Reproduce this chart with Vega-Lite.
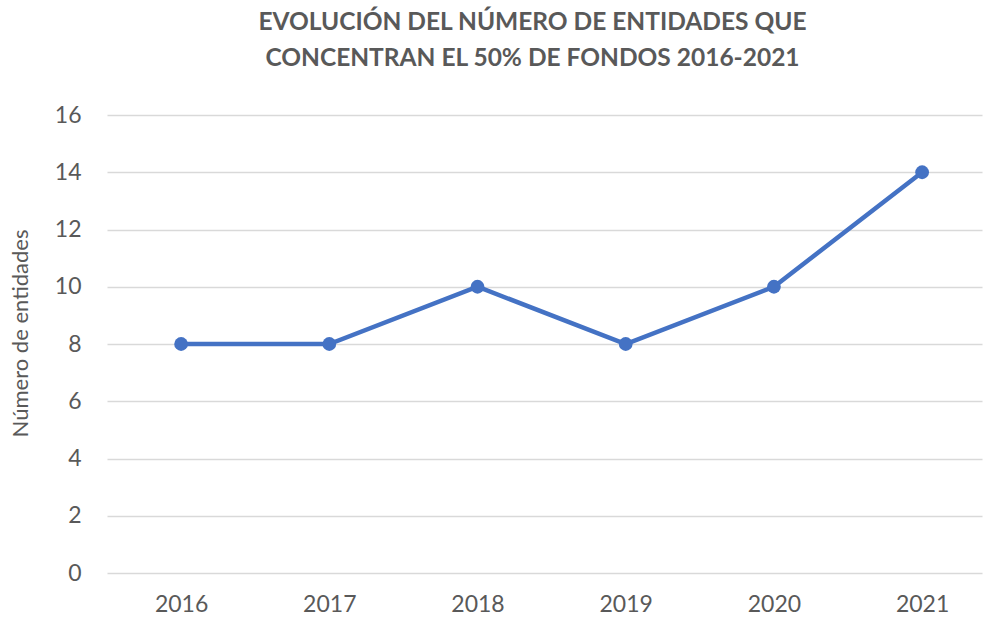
{
  "$schema": "https://vega.github.io/schema/vega-lite/v6.json",
  "autosize": "none",
  "width": 875,
  "height": 458,
  "padding": {"left": 107, "top": 115, "right": 3, "bottom": 47},
  "background": "white",
  "title": {
    "text": ["EVOLUCIÓN DEL NÚMERO DE ENTIDADES QUE", "CONCENTRAN EL 50% DE FONDOS 2016-2021"],
    "font": "Lato",
    "fontSize": 24.5,
    "fontWeight": "bold",
    "color": "#595959",
    "anchor": "middle",
    "dx": -12,
    "offset": 33,
    "lineHeight": 36
  },
  "data": {
    "values": [
      {"year": 2016, "n": 8},
      {"year": 2017, "n": 8},
      {"year": 2018, "n": 10},
      {"year": 2019, "n": 8},
      {"year": 2020, "n": 10},
      {"year": 2021, "n": 14}
    ]
  },
  "config": {
    "view": {"stroke": null},
    "axis": {"labelFont": "Lato", "titleFont": "Lato", "labelColor": "#595959", "titleColor": "#595959"}
  },
  "encoding": {
    "x": {
      "field": "year", "type": "quantitative",
      "scale": {"domain": [2015.5, 2021.404], "nice": false, "zero": false},
      "axis": {"title": null, "values": [2016, 2017, 2018, 2019, 2020, 2021], "format": "d", "labelAngle": 0, "labelFontSize": 23, "ticks": false, "domain": false, "labelPadding": 20, "grid": false}
    },
    "y": {
      "field": "n", "type": "quantitative",
      "scale": {"domain": [0, 16]},
      "axis": {
        "values": [0, 2, 4, 6, 8, 10, 12, 14, 16],
        "title": "Número de entidades",
        "titleFontSize": 22, "titleFontWeight": "normal",
        "titleX": -87, "titleY": 218, "titleAngle": -90,
        "titleAlign": "center", "titleBaseline": "middle",
        "labelFontSize": 23, "labelPadding": 26,
        "ticks": false, "domain": false,
        "gridColor": "#d9d9d9", "gridWidth": 1.3
      }
    }
  },
  "layer": [
    {"mark": {"type": "line", "color": "#4472C4", "strokeWidth": 4.5}},
    {"mark": {"type": "point", "filled": true, "color": "#4472C4", "size": 190, "opacity": 1}}
  ]
}
